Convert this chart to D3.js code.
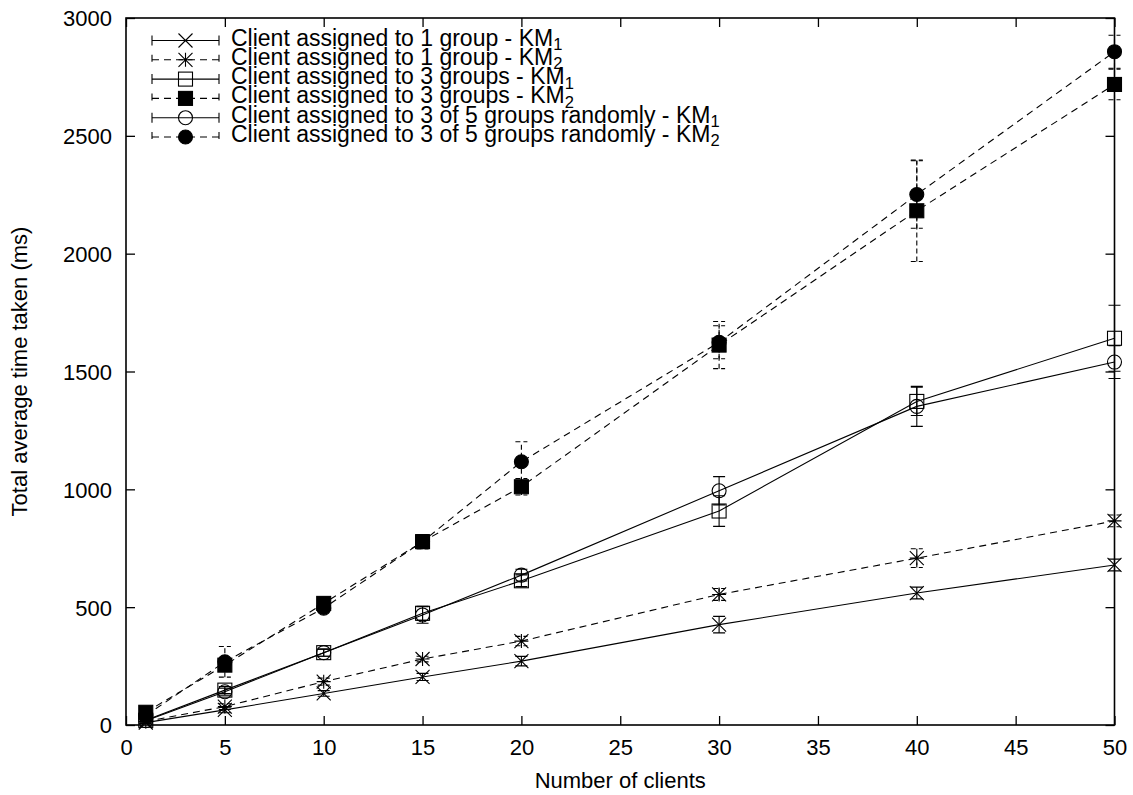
<!DOCTYPE html>
<html><head><meta charset="utf-8">
<script src="https://cdn.jsdelivr.net/npm/d3@7"></script>
<style>body{margin:0;background:#fff}svg{display:block}text{font-family:"Liberation Sans",Arial,sans-serif}</style>
</head><body>
<svg id="c" width="1133" height="795"></svg>
<script>
const clients = [1, 5, 10, 15, 20, 30, 40, 50];
const seriesNames = [
  "Client assigned to 1 group - KM|1",
  "Client assigned to 1 group - KM|2",
  "Client assigned to 3 groups - KM|1",
  "Client assigned to 3 groups - KM|2",
  "Client assigned to 3 of 5 groups randomly - KM|1",
  "Client assigned to 3 of 5 groups randomly - KM|2"
];
const oneGroupKM1 = [10, 64, 134, 204, 271, 426, 560, 679];
const oneGroupKM2 = [15, 78, 184, 280, 356, 554, 708, 866];
const threeGroupsKM1 = [20, 148, 307, 474, 612, 908, 1373, 1641];
const threeGroupsKM2 = [54, 254, 516, 778, 1011, 1612, 2182, 2718];
const randomKM1 = [18, 141, 307, 467, 636, 994, 1352, 1540];
const randomKM2 = [40, 268, 496, 778, 1117, 1624, 2251, 2857];
const errOneGroupKM1 = [3, 12, 12, 15, 20, 35, 25, 25];
const errOneGroupKM2 = [3, 12, 15, 12, 20, 25, 40, 25];
const errThreeGroupsKM1 = [3, 15, 15, 30, 25, 65, 60, 140];
const errThreeGroupsKM2 = [5, 20, 15, 30, 35, 100, 215, 65];
const errRandomKM1 = [3, 15, 15, 35, 25, 60, 85, 70];
const errRandomKM2 = [5, 65, 15, 30, 85, 70, 143, 70];
const xTicks = [0, 5, 10, 15, 20, 25, 30, 35, 40, 45, 50];
const yTicks = [0, 500, 1000, 1500, 2000, 2500, 3000];
const markers = ["x", "star", "square", "filledSquare", "circle", "filledCircle"];
const dashed = [false, true, false, true, false, true];

const values = [oneGroupKM1, oneGroupKM2, threeGroupsKM1, threeGroupsKM2, randomKM1, randomKM2];
const errs = [errOneGroupKM1, errOneGroupKM2, errThreeGroupsKM1, errThreeGroupsKM2, errRandomKM1, errRandomKM2];

const svg = d3.select("#c");
const L = 126, R = 1114.5, T = 18, B = 725;
const x = d3.scaleLinear().domain([0, 50]).range([L, R]);
const y = d3.scaleLinear().domain([0, 3000]).range([B, T]);
const FS = 22;
const LFS = 23;
const DASH = "7,5";

svg.append("rect").attr("x", L).attr("y", T).attr("width", R - L).attr("height", B - T)
  .attr("fill", "none").attr("stroke", "#000").attr("stroke-width", 1.6);

const TL = 9;
const gxb = svg.append("g").attr("transform", `translate(0,${B})`)
  .call(d3.axisBottom(x).tickValues(xTicks).tickSize(-TL).tickPadding(14).tickFormat(d3.format("d")));
const gxt = svg.append("g").attr("transform", `translate(0,${T})`)
  .call(d3.axisTop(x).tickValues(xTicks).tickSize(-TL).tickFormat(""));
const gyl = svg.append("g").attr("transform", `translate(${L},0)`)
  .call(d3.axisLeft(y).tickValues(yTicks).tickSize(-TL).tickPadding(14).tickFormat(d3.format("d")));
const gyr = svg.append("g").attr("transform", `translate(${R},0)`)
  .call(d3.axisRight(y).tickValues(yTicks).tickSize(-TL).tickFormat(""));
[gxb, gxt, gyl, gyr].forEach(g => {
  g.select(".domain").remove();
  g.selectAll(".tick line").attr("stroke", "#000").attr("stroke-width", 1.3);
  g.selectAll("text").attr("fill", "#000").style("font-size", FS + "px").style("font-family", '"Liberation Sans",Arial,sans-serif');
});
gxb.selectAll("text").attr("dy", "0.71em").attr("y", 14);
gyl.selectAll("text").attr("dy", "0.36em");

svg.append("text").attr("x", (L + R) / 2).attr("y", 788).attr("text-anchor", "middle")
  .style("font-size", FS + "px").text("Number of clients");
svg.append("text").attr("transform", `translate(27,${(T + B) / 2}) rotate(-90)`).attr("text-anchor", "middle")
  .style("font-size", FS + "px").text("Total average time taken (ms)");

function drawMarker(g, type, cx, cy) {
  const s = 7;
  if (type === "x") {
    g.append("path").attr("d", `M${cx - s},${cy - s}L${cx + s},${cy + s}M${cx - s},${cy + s}L${cx + s},${cy - s}`)
      .attr("stroke", "#000").attr("stroke-width", 1.1);
  } else if (type === "star") {
    g.append("path").attr("d", `M${cx - s},${cy - s}L${cx + s},${cy + s}M${cx - s},${cy + s}L${cx + s},${cy - s}M${cx},${cy - s}L${cx},${cy + s}M${cx - s},${cy}L${cx + s},${cy}`)
      .attr("stroke", "#000").attr("stroke-width", 1.1);
  } else if (type === "square" || type === "filledSquare") {
    g.append("rect").attr("x", cx - s).attr("y", cy - s).attr("width", 2 * s).attr("height", 2 * s)
      .attr("fill", type === "square" ? "none" : "#000").attr("stroke", "#000").attr("stroke-width", 1.1);
  } else {
    g.append("circle").attr("cx", cx).attr("cy", cy).attr("r", s)
      .attr("fill", type === "circle" ? "none" : "#000").attr("stroke", "#000").attr("stroke-width", 1.1);
  }
}

const line = d3.line().x(d => x(d[0])).y(d => y(d[1]));
const plot = svg.append("g");
values.forEach((vals, i) => {
  const g = plot.append("g");
  const pts = clients.map((c, j) => [c, vals[j]]);
  g.append("path").attr("d", line(pts)).attr("fill", "none").attr("stroke", "#000")
    .attr("stroke-width", 1.1).attr("stroke-dasharray", dashed[i] ? DASH : null);
  pts.forEach(([c, v], j) => {
    const e = errs[i][j];
    const px = x(c), y1 = y(v - e), y2 = y(v + e);
    const cap = 6;
    g.append("path").attr("d", `M${px},${y1}L${px},${y2}M${px - cap},${y1}L${px + cap},${y1}M${px - cap},${y2}L${px + cap},${y2}`)
      .attr("stroke", "#000").attr("stroke-width", 1.1).attr("fill", "none")
      .attr("stroke-dasharray", dashed[i] ? "5,3" : null);
    drawMarker(g, markers[i], px, y(v));
  });
});

const leg = svg.append("g");
const lx0 = 152, lx1 = 219, ltx = 231, ly0 = 40.5, ldy = 19.3;
seriesNames.forEach((name, i) => {
  const yy = ly0 + i * ldy;
  const g = leg.append("g");
  g.append("path").attr("d", `M${lx0},${yy}L${lx1},${yy}M${lx0},${yy - 5}L${lx0},${yy + 5}M${lx1},${yy - 5}L${lx1},${yy + 5}`)
    .attr("stroke", "#000").attr("stroke-width", 1.1).attr("fill", "none")
    .attr("stroke-dasharray", dashed[i] ? DASH : null);
  drawMarker(g, markers[i], (lx0 + lx1) / 2, yy);
  const [main, sub] = name.split("|");
  const t = g.append("text").attr("x", ltx).attr("y", yy + 5).style("font-size", LFS + "px");
  t.append("tspan").text(main);
  t.append("tspan").attr("dy", "0.27em").style("font-size", (LFS * 0.72) + "px").text(sub);
});
</script>
</body></html>
